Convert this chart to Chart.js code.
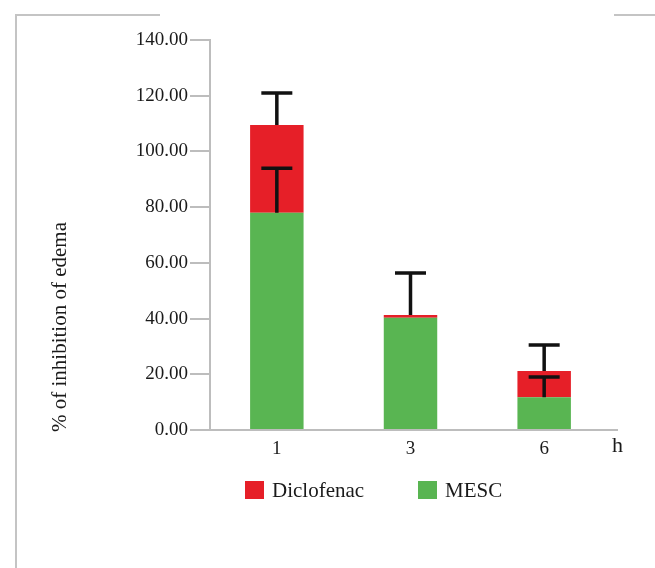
<!DOCTYPE html>
<html>
<head>
<meta charset="utf-8">
<script src="https://cdn.jsdelivr.net/npm/chart.js@4/dist/chart.umd.min.js"></script>
<style>
  html, body { margin: 0; padding: 0; background: #fff; }
  #chart { display: block; }
</style>
</head>
<body>
<canvas id="chart" width="655" height="568"></canvas>
<script>
// Data
const hours = ['1', '3', '6'];
const mescValues = [78.0, 40.3, 11.8];
const diclofenacValues = [31.5, 1.0, 9.4];   // stacked on top of MESC
const mescErrors = [16.0, 0, 7.2];
const diclofenacErrors = [11.5, 15.1, 9.3];
const yTicksMin = 0;
const yTicksMax = 140;
const yTickStep = 20;

const FONT = '"Liberation Serif", "DejaVu Serif", serif';
const RED = '#e61f28';
const GREEN = '#59b552';
const AXIS_GRAY = '#bdbdbd';

// Frame lines around the figure
const framePlugin = {
    id: 'frame',
    beforeDraw(chart) {
        const ctx = chart.ctx;
        ctx.save();
        ctx.fillStyle = '#fff';
        ctx.fillRect(0, 0, chart.width, chart.height);
        ctx.strokeStyle = '#c4c4c4';
        ctx.lineWidth = 2;
        ctx.beginPath();
        ctx.moveTo(16, chart.height);
        ctx.lineTo(16, 15);
        ctx.lineTo(160, 15);
        ctx.moveTo(614, 15);
        ctx.lineTo(chart.width, 15);
        ctx.stroke();
        ctx.restore();
    }
};

// Error bars drawn above the stacked bars
const errorBarPlugin = {
    id: 'errorBars',
    afterDatasetsDraw(chart) {
        const ctx = chart.ctx;
        const y = chart.scales.y;
        const errs = [mescErrors, diclofenacErrors];
        ctx.save();
        ctx.strokeStyle = '#111';
        ctx.lineWidth = 3.5;
        chart.data.datasets.forEach((ds, di) => {
            const meta = chart.getDatasetMeta(di);
            meta.data.forEach((bar, i) => {
                const e = errs[di][i];
                if (!e) return;
                const capY = bar.y - (y.getPixelForValue(0) - y.getPixelForValue(e));
                ctx.beginPath();
                ctx.moveTo(bar.x, bar.y);
                ctx.lineTo(bar.x, capY);
                ctx.moveTo(bar.x - 15.5, capY);
                ctx.lineTo(bar.x + 15.5, capY);
                ctx.stroke();
            });
        });
        ctx.restore();
    }
};

// Axis title, the "h" unit and the legend
const labelsPlugin = {
    id: 'labels',
    afterDraw(chart) {
        const ctx = chart.ctx;
        const area = chart.chartArea;
        ctx.save();
        ctx.fillStyle = '#1a1a1a';

        // y title
        ctx.save();
        ctx.translate(60, 327);
        ctx.rotate(-Math.PI / 2);
        ctx.font = '21px ' + FONT;
        ctx.textAlign = 'center';
        ctx.textBaseline = 'middle';
        ctx.fillText('% of inhibition of edema', 0, 0);
        ctx.restore();

        // x axis extension and unit
        ctx.strokeStyle = AXIS_GRAY;
        ctx.lineWidth = 2;
        ctx.beginPath();
        ctx.moveTo(area.right, area.bottom);
        ctx.lineTo(area.right + 7, area.bottom);
        ctx.stroke();
        ctx.font = '22px ' + FONT;
        ctx.textAlign = 'left';
        ctx.textBaseline = 'middle';
        ctx.fillText('h', area.right + 1, 446);

        // legend
        const items = [
            { ds: chart.data.datasets[1], x: 245 },
            { ds: chart.data.datasets[0], x: 418 }
        ];
        ctx.font = '21px ' + FONT;
        items.forEach(it => {
            ctx.fillStyle = it.ds.backgroundColor;
            ctx.fillRect(it.x, 481, 19, 18);
            ctx.fillStyle = '#1a1a1a';
            ctx.fillText(it.ds.label, it.x + 27, 491);
        });
        ctx.restore();
    }
};

new Chart(document.getElementById('chart'), {
    type: 'bar',
    data: {
        labels: hours,
        datasets: [
            {
                label: 'MESC',
                data: mescValues,
                backgroundColor: GREEN,
                barPercentage: 0.4,
                categoryPercentage: 1
            },
            {
                label: 'Diclofenac',
                data: diclofenacValues,
                backgroundColor: RED,
                barPercentage: 0.4,
                categoryPercentage: 1
            }
        ]
    },
    options: {
        responsive: false,
        animation: false,
        layout: { padding: { top: 40, right: 44, left: 0, bottom: 0 } },
        plugins: {
            legend: { display: false },
            tooltip: { enabled: false }
        },
        scales: {
            x: {
                stacked: true,
                grid: { drawOnChartArea: false, drawTicks: false },
                border: { color: AXIS_GRAY, width: 2 },
                ticks: {
                    color: '#1a1a1a',
                    font: { family: FONT, size: 19 },
                    padding: 8
                },
                afterFit(scale) { scale.height = 138; }
            },
            y: {
                stacked: true,
                min: yTicksMin,
                max: yTicksMax,
                grid: { drawOnChartArea: false, drawTicks: true, tickLength: 20, color: AXIS_GRAY, lineWidth: 2 },
                border: { color: AXIS_GRAY, width: 2 },
                ticks: {
                    stepSize: yTickStep,
                    color: '#1a1a1a',
                    font: { family: FONT, size: 19 },
                    padding: 2,
                    callback: v => v.toFixed(2)
                },
                afterFit(scale) { scale.width = 210; }
            }
        }
    },
    plugins: [framePlugin, errorBarPlugin, labelsPlugin]
});
</script>
</body>
</html>
